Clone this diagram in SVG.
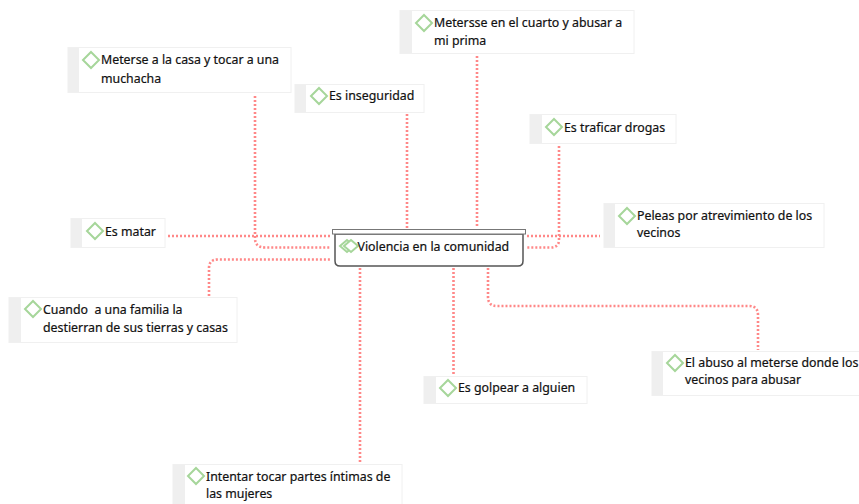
<svg xmlns="http://www.w3.org/2000/svg" width="859" height="504" viewBox="0 0 859 504">
<style>
.box{fill:#fff;stroke:#f0f0f0;stroke-width:1}
.strip{fill:#efefef}
.dia{fill:#fff;stroke:#a6d69a;stroke-width:2}
text{font-family:"Noto Sans","Open Sans",sans-serif;font-size:12.35px;fill:#111;stroke:#111;stroke-width:.2;white-space:pre}
#connectors path{fill:none;stroke:#f88;stroke-width:2.6;stroke-dasharray:2 2}
</style>
<rect width="859" height="504" fill="#fff"/>
<g id="connectors">
<path d="M168 236H330"/>
<path d="M255 96V238Q255 247.500 265 247.500H330"/>
<path d="M209 296V268Q209 259.500 218 259.500H330"/>
<path d="M407 114V228"/>
<path d="M477 56V228"/>
<path d="M527 236H600"/>
<path d="M559 146V240Q559 247.500 550 247.500H527"/>
<path d="M360 268V463"/>
<path d="M453.500 268V375"/>
<path d="M488 268V297Q488 306 497 306H749Q758 306 758 315V350"/>
</g>
<g id="n1"><rect class="box" x="68" y="47.500" width="223" height="45"/><rect class="strip" x="68" y="48" width="11" height="44"/><path class="dia" d="M91 52L99 60L91 68L83 60Z"/><text x="101" y="64">Meterse a la casa y tocar a una</text><text x="101" y="83">muchacha</text></g>
<g id="n2"><rect class="box" x="295" y="84.500" width="129" height="28"/><rect class="strip" x="295" y="85" width="11" height="27"/><path class="dia" d="M319 88L327 96L319 104L311 96Z"/><text x="329" y="100">Es inseguridad</text></g>
<g id="n3"><rect class="box" x="400" y="10.500" width="234" height="43"/><rect class="strip" x="400" y="11" width="12" height="42"/><path class="dia" d="M424 15L432 23L424 31L416 23Z"/><text x="434" y="27">Metersse en el cuarto y abusar a</text><text x="434" y="45">mi prima</text></g>
<g id="n4"><rect class="box" x="530" y="114.500" width="146" height="29"/><rect class="strip" x="530" y="115" width="12" height="28"/><path class="dia" d="M554 119L562 127L554 135L546 127Z"/><text x="564" y="132">Es traficar drogas</text></g>
<g id="n5"><rect class="box" x="604" y="203.500" width="220" height="44"/><rect class="strip" x="604" y="204" width="11" height="43"/><path class="dia" d="M627 208L635 216L627 224L619 216Z"/><text x="637" y="220">Peleas por atrevimiento de los</text><text x="637" y="237">vecinos</text></g>
<g id="n6"><rect class="box" x="71" y="218.500" width="94" height="29"/><rect class="strip" x="71" y="219" width="11" height="28"/><path class="dia" d="M95 223L103 231L95 239L87 231Z"/><text x="105" y="236">Es matar</text></g>
<g id="n7"><rect class="box" x="9" y="297.500" width="228" height="45"/><rect class="strip" x="9" y="298" width="12" height="44"/><path class="dia" d="M33 301L41 309L33 317L25 309Z"/><text x="43" y="314">Cuando  a una familia la</text><text x="43" y="332">destierran de sus tierras y casas</text></g>
<g id="n8"><rect class="box" x="424" y="376.500" width="163" height="27"/><rect class="strip" x="424" y="377" width="12" height="26"/><path class="dia" d="M448 380L456 388L448 396L440 388Z"/><text x="458" y="392">Es golpear a alguien</text></g>
<g id="n9"><rect class="box" x="652" y="351.500" width="208" height="44"/><rect class="strip" x="652" y="352" width="11" height="43"/><path class="dia" d="M675 355L683 363L675 371L667 363Z"/><text x="685" y="367">El abuso al meterse donde los</text><text x="685" y="384">vecinos para abusar</text></g>
<g id="n10"><rect class="box" x="173" y="464.500" width="229" height="41"/><rect class="strip" x="173" y="465" width="12" height="39"/><path class="dia" d="M196 468L204 476L196 484L188 476Z"/><text x="206" y="481">Intentar tocar partes íntimas de</text><text x="206" y="498">las mujeres</text></g>
<g id="center">
<path d="M335 234V261Q335 266 340 266H518Q523 266 523 261V234Z" fill="#fff" stroke="#555" stroke-width="1.500"/>
<rect x="332.500" y="229.500" width="193" height="4.500" fill="#fff" stroke="#777" stroke-width="1"/>
<path d="M347 240L340 246L347 252L354 246Z" fill="none" stroke="#a6d69a" stroke-width="2"/>
<path d="M351 240L344 246L351 252L358 246Z" fill="#fff" stroke="#a6d69a" stroke-width="2"/>
<text x="357.500" y="251">Violencia en la comunidad</text>
</g>
</svg>
